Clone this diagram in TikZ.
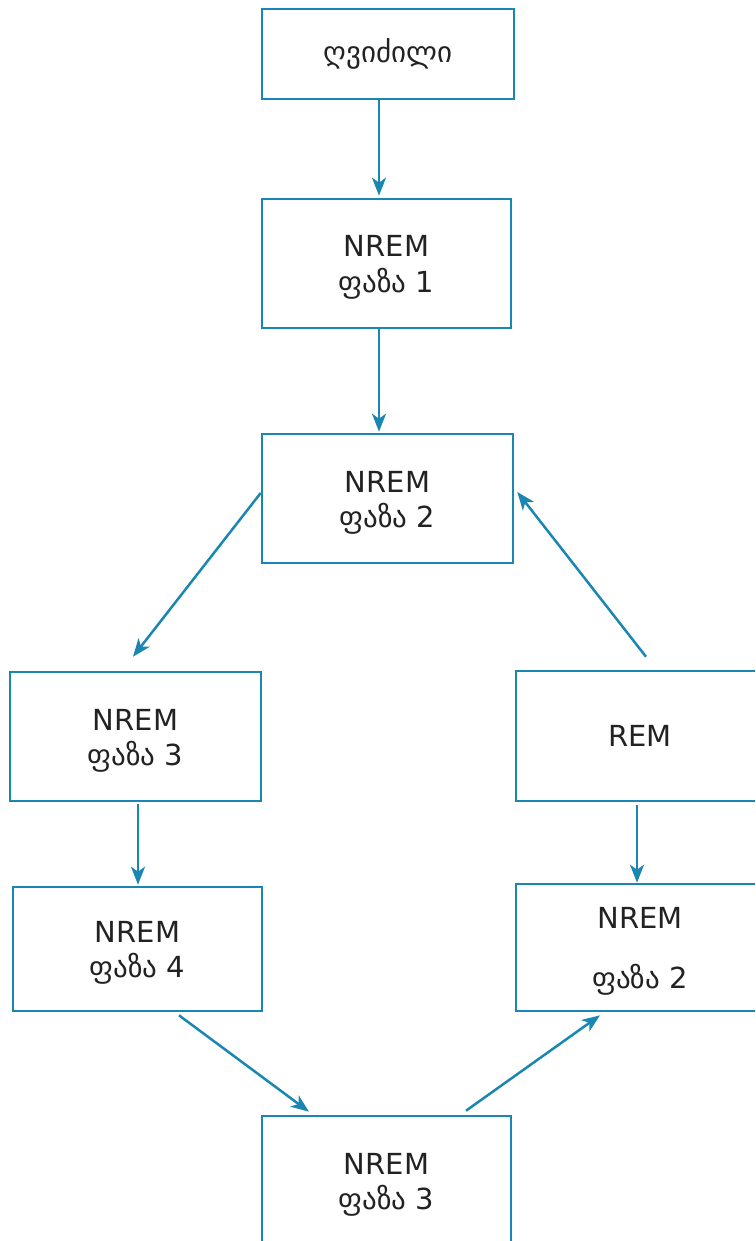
\documentclass[tikz,border=0pt]{standalone}
\usepackage{fontspec}
\setmainfont{DejaVu Sans}
\usetikzlibrary{arrows.meta}
\definecolor{edge}{HTML}{1A86B2}
\definecolor{ink}{HTML}{222222}
% two-line stage label, set a little low inside its box
\newcommand{\stagetext}[2]{\raisebox{-4pt}[\height][\depth]{\begin{tabular}{@{}c@{}}#1\\#2\end{tabular}}}
\begin{document}
\begin{tikzpicture}[x=1pt,y=-1pt,
  stage/.style={draw=edge,line width=2.6pt,rectangle,align=center,text=ink,
    font=\fontsize{29}{35}\selectfont,inner sep=0pt},
  flow/.style={draw=edge,line width=2.5pt,-{Stealth[length=18pt,width=14pt,inset=5pt]}}]
\useasboundingbox (0,0) rectangle (755,1241);
\clip (0,0) rectangle (755,1241);
% sleep stages
\node[stage,minimum width=252pt,minimum height=90pt] (wake) at (388,54) {ღვიძილი};
\node[stage,minimum width=249pt,minimum height=129pt] (n1) at (386.5,263.5) {\stagetext{NREM}{ფაზა 1}};
\node[stage,minimum width=251pt,minimum height=129pt] (n2) at (387.5,498.5) {\stagetext{NREM}{ფაზა 2}};
\node[stage,minimum width=251pt,minimum height=129pt] (n3l) at (135.5,736.5) {\stagetext{NREM}{ფაზა 3}};
\node[stage,minimum width=248pt,minimum height=130pt] (rem) at (640,736) {REM};
\node[stage,minimum width=249pt,minimum height=124pt] (n4) at (137.5,949) {\stagetext{NREM}{ფაზა 4}};
\node[stage,minimum width=248pt,minimum height=127pt] (n2r) at (640,947.5) {\stagetext{NREM}{\rule{0pt}{50pt}ფაზა 2}};
\node[stage,minimum width=249pt,minimum height=129pt] (n3b) at (386.5,1180.5) {\stagetext{NREM}{ფაზა 3}};
% transitions
\draw[flow] ([xshift=-9pt]wake.south) -- ([xshift=-7.5pt,yshift=2pt]n1.north);
\draw[flow] ([xshift=-7.5pt]n1.south) -- ([xshift=-8.5pt,yshift=1pt]n2.north);
\draw[flow] ([yshift=5.5pt]n2.west) -- ([xshift=-2.5pt,yshift=14pt]n3l.north);
\draw[flow] ([xshift=2.5pt,yshift=-2pt]n3l.south) -- ([xshift=0.5pt,yshift=1pt]n4.north);
\draw[flow] ([xshift=41.5pt,yshift=-3pt]n4.south) -- ([xshift=-77.5pt,yshift=3pt]n3b.north);
\draw[flow] ([xshift=79.5pt,yshift=4pt]n3b.north) -- ([xshift=-40pt,yshift=-3pt]n2r.south);
\draw[flow] ([xshift=-3pt,yshift=-3pt]rem.south) -- ([xshift=-3pt]n2r.north);
\draw[flow] ([xshift=6pt,yshift=13pt]rem.north) -- ([xshift=3pt,yshift=6.5pt]n2.east);
\end{tikzpicture}
\end{document}
